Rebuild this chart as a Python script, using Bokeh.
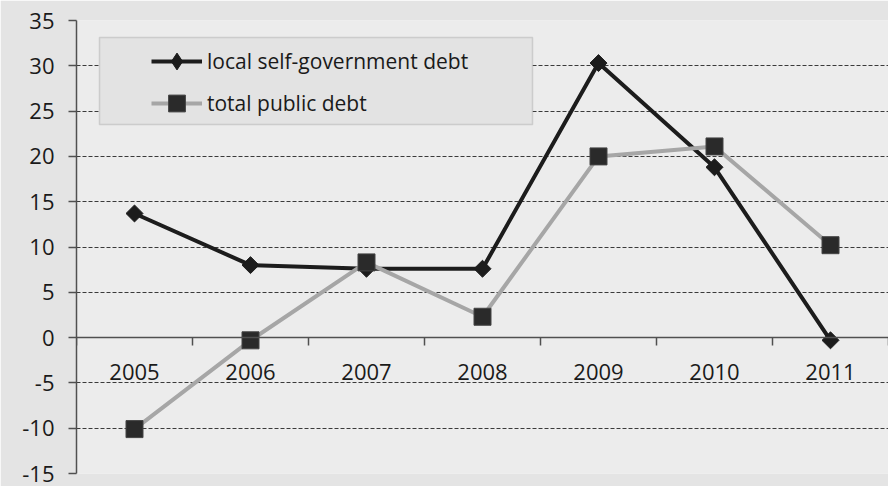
from bokeh.plotting import figure
from bokeh.models import FixedTicker, LinearAxis, Range1d, Legend, LegendItem, BoxAnnotation
from bokeh.embed import file_html
from bokeh.resources import INLINE

years = ["2005", "2006", "2007", "2008", "2009", "2010", "2011"]
local_debt = [13.7, 8.0, 7.6, 7.6, 30.3, 18.8, -0.3]
total_debt = [-10.1, -0.3, 8.3, 2.3, 20.0, 21.1, 10.2]
y_ticks = [-15, -10, -5, 0, 5, 10, 15, 20, 25, 30, 35]
y_tick_labels = ["-15", "-10", "-5", "0", "5", "10", "15", "20", "25", "30", "35"]

x = list(range(1, len(years) + 1))
FONT = "Open Sans"
TXT = "#1a1a1a"
AX = "#505050"

p = figure(width=888, height=486, output_backend="svg", toolbar_location=None,
           x_range=Range1d(0.5, len(years) + 0.5), y_range=Range1d(y_ticks[0], y_ticks[-1]),
           x_axis_location=None,
           min_border_left=76, min_border_right=0, min_border_top=20, min_border_bottom=13)
p.background_fill_color = "#ececec"
p.border_fill_color = "#e4e4e4"
p.outline_line_color = None

p.xgrid.visible = False
p.ygrid.ticker = FixedTicker(ticks=y_ticks)
p.ygrid.grid_line_color = "#3a3a3a"
p.ygrid.grid_line_dash = "4 2"
p.ygrid.grid_line_width = 1

# y axis
ya = p.yaxis[0]
ya.ticker = FixedTicker(ticks=y_ticks)
ya.major_label_overrides = {t: s for t, s in zip(y_ticks, y_tick_labels)}
ya.major_tick_out = 8
ya.major_tick_in = 0
ya.minor_tick_out = 0
ya.minor_tick_in = 0
ya.axis_line_color = AX
ya.axis_line_width = 1.5
ya.major_tick_line_color = AX
ya.major_tick_line_width = 1.5
ya.major_label_standoff = 14
ya.major_label_text_font = FONT
ya.major_label_text_font_size = "22px"
ya.major_label_text_color = TXT

# x axis crossing at zero: labels at category centres, ticks between categories
x_axis = LinearAxis(ticker=FixedTicker(ticks=x, minor_ticks=[i + 0.5 for i in range(len(years) + 1)]),
                    major_label_overrides={i: yv for i, yv in zip(x, years)},
                    fixed_location=0, major_tick_out=0, major_tick_in=0,
                    minor_tick_out=8, minor_tick_in=0,
                    minor_tick_line_color=AX, minor_tick_line_width=1.5,
                    axis_line_color=AX, axis_line_width=1.5,
                    major_label_standoff=18, major_label_text_font=FONT,
                    major_label_text_font_size="22px", major_label_text_color=TXT)
p.add_layout(x_axis, "below")

l1 = p.line(x, local_debt, line_color="#1c1c1c", line_width=4)
m1 = p.scatter(x, local_debt, marker="square", angle=0.785398, size=12,
               fill_color="#1c1c1c", line_color="#1c1c1c")
l2 = p.line(x, total_debt, line_color="#a6a6a6", line_width=4)
m2 = p.scatter(x, total_debt, marker="square", size=17,
               fill_color="#2a2a2a", line_color="#444444")

# legend-only glyph for the diamond series (no visible data point)
nan = float("nan")
lg_line = p.line([nan], [nan], line_color="#1c1c1c", line_width=4)
lg_mark = p.scatter([nan], [nan], marker="diamond", size=12,
                    fill_color="#1c1c1c", line_color="#1c1c1c")

box = BoxAnnotation(left=23, right=456, top=436, bottom=349,
                    left_units="screen", right_units="screen",
                    top_units="screen", bottom_units="screen",
                    fill_color="#e3e3e3", fill_alpha=1.0,
                    line_color="#8c8c8c", line_width=1.5)
p.add_layout(box)

legend = Legend(items=[LegendItem(label="local self-government debt", renderers=[lg_line, lg_mark]),
                       LegendItem(label="total public debt", renderers=[l2, m2])],
                location=(75, 349), orientation="vertical", padding=8, spacing=0,
                label_height=42, glyph_height=42, glyph_width=51, label_standoff=5,
                background_fill_alpha=0, border_line_color=None, margin=0,
                label_text_font=FONT, label_text_font_size="21px", label_text_color=TXT)
p.add_layout(legend)

open("out.html", "w").write(file_html(p, INLINE))
